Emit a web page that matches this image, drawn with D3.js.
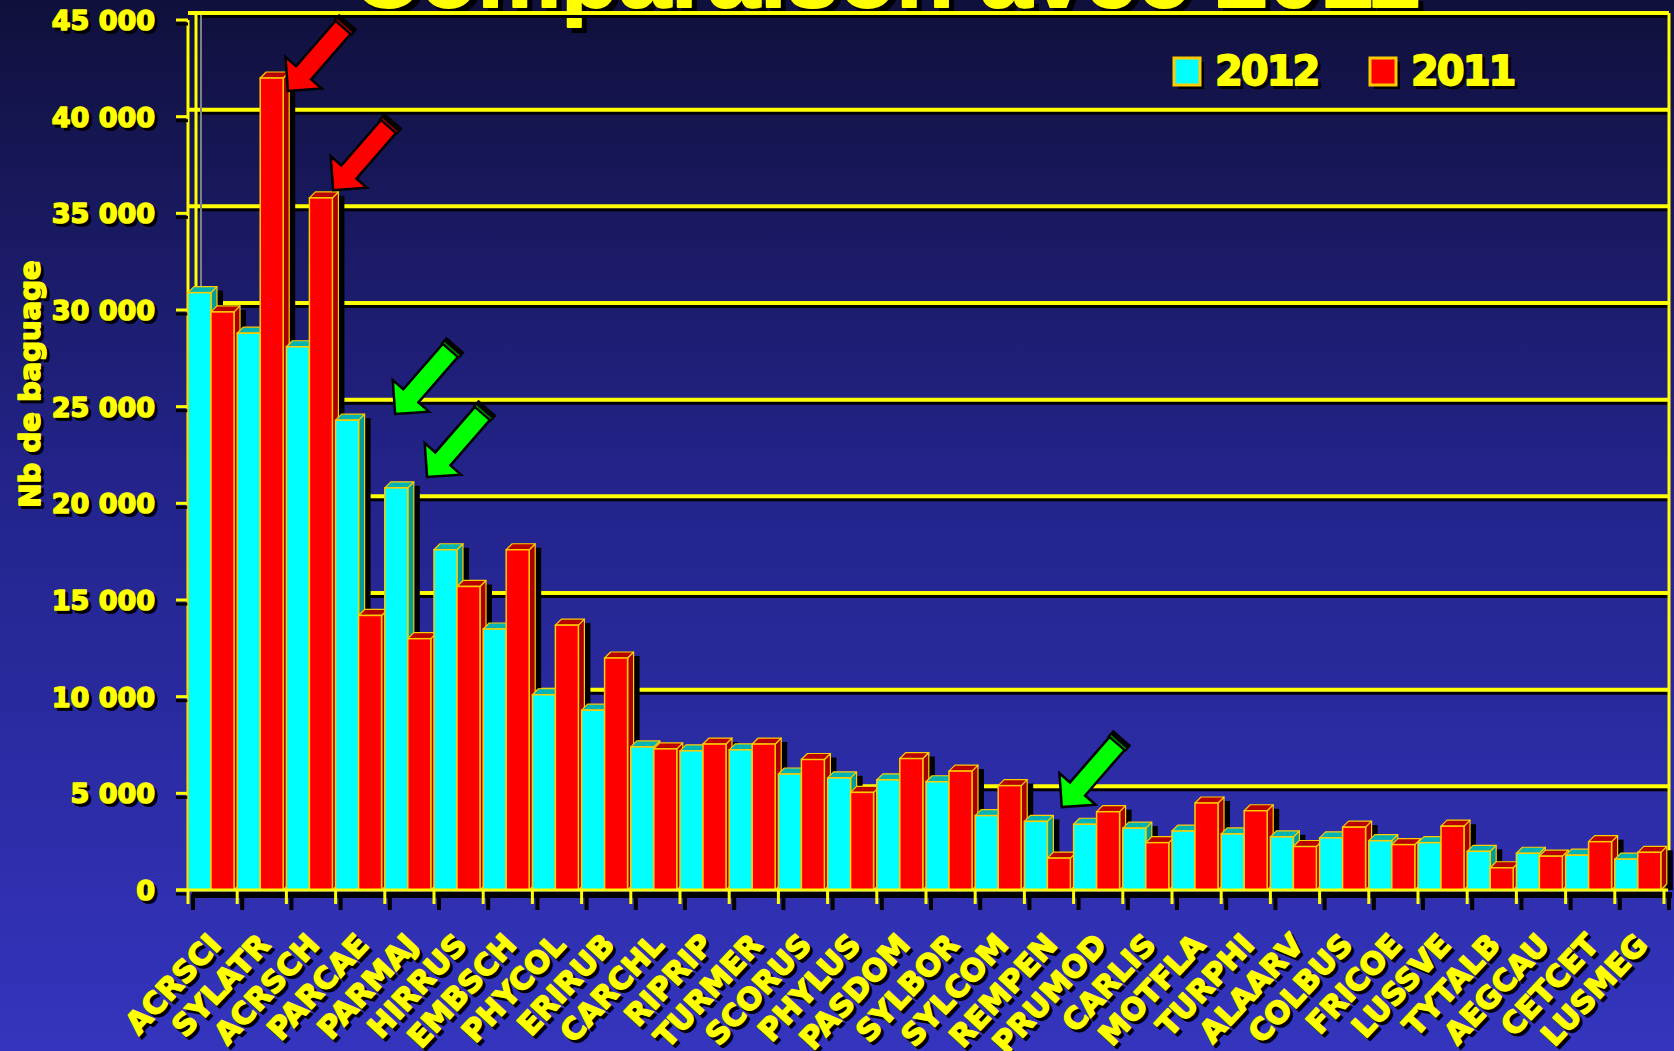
<!DOCTYPE html>
<html><head><meta charset="utf-8">
<script src="https://cdn.jsdelivr.net/npm/d3@7"></script>
<style>html,body{margin:0;padding:0;overflow:hidden;background:#1a1a60}</style>
</head><body>
<svg id="c" width="1674" height="1051"></svg>
<script>
// ---------------- data ----------------
const categories = ["ACRSCI","SYLATR","ACRSCH","PARCAE","PARMAJ","HIRRUS","EMBSCH","PHYCOL","ERIRUB","CARCHL",
  "RIPRIP","TURMER","SCORUS","PHYLUS","PASDOM","SYLBOR","SYLCOM","REMPEN","PRUMOD","CARLIS",
  "MOTFLA","TURPHI","ALAARV","COLBUS","FRICOE","LUSSVE","TYTALB","AEGCAU","CETCET","LUSMEG"];
const values2012 = [30900,28800,28100,24300,20800,17600,13500,10100,9300,7400,
  7200,7250,6000,5800,5700,5600,3850,3550,3400,3200,
  3050,2900,2750,2700,2550,2450,2000,1900,1800,1600];
const values2011 = [29900,42000,35800,14200,13000,15700,17600,13700,12000,7300,
  7550,7550,6750,5050,6800,6150,5400,1650,4050,2450,
  4500,4100,2250,3250,2350,3300,1150,1750,2500,1950];
const seriesNames = ["2012","2011"];
const yTicks = [0,5000,10000,15000,20000,25000,30000,35000,40000,45000];
const yTickLabels = ["0","5 000","10 000","15 000","20 000","25 000","30 000","35 000","40 000","45 000"];
const titleText = "Comparaison avec 2011";
const yTitleText = "Nb de baguage";
// annotation arrows: tip located at (category, fraction of band, value)
const arrowCats = ["SYLATR","ACRSCH","PARMAJ","PARMAJ","REMPEN"];
const arrowFrac = [1.03,0.95,0.21,0.86,0.76];
const arrowValues = [41330,36200,24620,21360,4290];
const arrowKinds = ["red","red","green","green","green"];

// ---------------- style ----------------
const W=1674,H=1051;
const YEL="#ffff00", EDGE="#ffcc00";
const seriesStyle = {
  "2012": {front:"#00ffff", side:"#009c9c", top:"#00b4b4"},
  "2011": {front:"#ff0000", side:"#a80000", top:"#b80000"}
};
const arrowStyle = {red:{fill:"#ff0000",cap:"#900000"}, green:{fill:"#00ff00",cap:"#008800"}};
const FONT="DejaVu Sans, Verdana, sans-serif";

const svg=d3.select("#c");
const defs=svg.append("defs");
const grad=defs.append("linearGradient").attr("id","bg").attr("x1",0).attr("y1",0).attr("x2",0).attr("y2",1);
grad.append("stop").attr("offset","0%").attr("stop-color","#10103c");
grad.append("stop").attr("offset","45%").attr("stop-color","#23238a");
grad.append("stop").attr("offset","100%").attr("stop-color","#3434be");
svg.append("rect").attr("width",W).attr("height",H).attr("fill","url(#bg)");

const x0=188, x1=1664, yBase=890, yTopPx=20;
const wall={dx:8,dy:-7};
const bar={dx:6,dy:-6};
const xRight=1669;

const x=d3.scaleBand().domain(categories).range([x0,x1]).padding(0);
const xs=d3.scaleBand().domain(seriesNames).range([0,x.bandwidth()*0.935]).padding(0);
const y=d3.scaleLinear().domain([0,45000]).range([yBase,yTopPx]);
const bw=xs.bandwidth();

// text with black drop shadow and heavy stroke
function shadowText(g, txt, attrs, off, sw){
  const s=g.append("text").text(txt).attr("fill","#000").attr("stroke","#000").attr("stroke-width",sw||0).attr("stroke-linejoin","round");
  const t=g.append("text").text(txt).attr("fill",YEL).attr("stroke",YEL).attr("stroke-width",sw||0).attr("stroke-linejoin","round");
  for(const k in attrs){ s.attr(k,attrs[k]); t.attr(k,attrs[k]); }
  s.attr("transform",`translate(${off},${off}) `+(attrs.transform||""));
  return t;
}

// ---------------- title ----------------
const gt=svg.append("g");
shadowText(gt,titleText,{x:352,y:7,"font-family":"Liberation Sans, Arial, sans-serif","font-weight":"bold","font-size":94,
  textLength:1068,lengthAdjust:"spacingAndGlyphs"},5,2);

// ---------------- walls & grid ----------------
const gw=svg.append("g");
gw.append("polygon").attr("points",[[x0,yBase],[x0+wall.dx,yBase+wall.dy],[xRight,yBase+wall.dy],[x1+3,yBase]].join(" "))
  .attr("fill","#5a5418");
yTicks.filter(v=>v>0).forEach(v=>{
  const yy=y(v)+wall.dy;
  gw.append("line").attr("x1",x0+wall.dx+2).attr("x2",xRight).attr("y1",yy+3.5).attr("y2",yy+3.5)
    .attr("stroke","#000").attr("stroke-width",3);
  gw.append("line").attr("x1",x0).attr("x2",xRight).attr("y1",yy).attr("y2",yy)
    .attr("stroke",YEL).attr("stroke-width",4);
});
gw.append("line").attr("x1",x0+wall.dx+5).attr("x2",x0+wall.dx+5).attr("y1",y(45000)+wall.dy+2).attr("y2",yBase+wall.dy)
  .attr("stroke","#808080").attr("stroke-width",2);
gw.append("line").attr("x1",x0+wall.dx).attr("x2",x0+wall.dx).attr("y1",y(45000)+wall.dy).attr("y2",yBase+wall.dy)
  .attr("stroke",YEL).attr("stroke-width",3);
gw.append("line").attr("x1",xRight).attr("x2",xRight).attr("y1",y(45000)+wall.dy).attr("y2",yBase+wall.dy)
  .attr("stroke",YEL).attr("stroke-width",3);
gw.append("line").attr("x1",x0).attr("x2",x0).attr("y1",y(45000)).attr("y2",yBase)
  .attr("stroke",YEL).attr("stroke-width",3);
yTicks.forEach(v=>{
  gw.append("line").attr("x1",x0-12).attr("x2",x0).attr("y1",y(v)+4).attr("y2",y(v)+4).attr("stroke","#000").attr("stroke-width",3);
  gw.append("line").attr("x1",x0-12).attr("x2",x0).attr("y1",y(v)).attr("y2",y(v)).attr("stroke",YEL).attr("stroke-width",3);
});

// ---------------- bars ----------------
const rows=categories.map((c,i)=>({cat:c,vals:[values2012[i],values2011[i]]}));
const gs=svg.append("g"), gb=svg.append("g");
rows.forEach(r=>{
  seriesNames.forEach((s,j)=>{
    const xb=x(r.cat)+xs(s), yv=y(r.vals[j]);
    gs.append("rect").attr("x",xb+bw+bar.dx-1).attr("y",yv+bar.dy+4).attr("width",7)
      .attr("height",Math.max(0,yBase-(yv+bar.dy+4))).attr("fill","#000");
  });
});
rows.forEach(r=>{
  seriesNames.forEach((s,j)=>{
    const st=seriesStyle[s];
    const xb=x(r.cat)+xs(s), xr=xb+bw, yv=y(r.vals[j]);
    gb.append("polygon").attr("points",[[xr,yv],[xr+bar.dx,yv+bar.dy],[xr+bar.dx,yBase+bar.dy],[xr,yBase]].join(" "))
      .attr("fill",st.side).attr("stroke",EDGE).attr("stroke-width",1.2).attr("stroke-linejoin","round");
    gb.append("polygon").attr("points",[[xb,yv],[xb+bar.dx,yv+bar.dy],[xr+bar.dx,yv+bar.dy],[xr,yv]].join(" "))
      .attr("fill",st.top).attr("stroke",EDGE).attr("stroke-width",1.2).attr("stroke-linejoin","round");
    gb.append("rect").attr("x",xb).attr("y",yv).attr("width",bw).attr("height",yBase-yv)
      .attr("fill",st.front).attr("stroke",EDGE).attr("stroke-width",1.5);
  });
});

// ---------------- base axis ----------------
const ga=svg.append("g");
ga.append("rect").attr("x",x0+4).attr("y",yBase+2).attr("width",x1-x0+4).attr("height",6).attr("fill","#000");
ga.append("line").attr("x1",x0-12).attr("x2",x1+4).attr("y1",yBase).attr("y2",yBase).attr("stroke",YEL).attr("stroke-width",3);
const bounds=categories.map(c=>x(c)).concat([x1]);
bounds.forEach(b=>{
  ga.append("line").attr("x1",b+5).attr("x2",b+5).attr("y1",yBase+4).attr("y2",yBase+20).attr("stroke","#000").attr("stroke-width",4);
  ga.append("line").attr("x1",b).attr("x2",b).attr("y1",yBase).attr("y2",yBase+14).attr("stroke",YEL).attr("stroke-width",3);
});

// ---------------- labels ----------------
const gl=svg.append("g");
yTicks.forEach((v,i)=>{
  shadowText(gl,yTickLabels[i],{x:155,y:y(v)+10,"text-anchor":"end","font-family":FONT,"font-weight":"bold","font-size":27},3,1.6);
});
categories.forEach(c=>{
  const cx=x(c)+x.bandwidth()/2+10, cy=946;
  shadowText(gl,c,{x:0,y:0,"text-anchor":"end","font-family":FONT,"font-weight":"bold","font-size":30,
    transform:`translate(${cx},${cy}) rotate(-47)`},3,1.6);
});
shadowText(gl,yTitleText,{x:0,y:0,"text-anchor":"middle","font-family":FONT,"font-weight":"bold","font-size":29,
  transform:"translate(40,384) rotate(-90)"},3,1.6);

// ---------------- legend ----------------
const gleg=svg.append("g");
const legX=[1174,1370];
seriesNames.forEach((s,j)=>{
  const lx=legX[j];
  gleg.append("rect").attr("x",lx+4).attr("y",62).attr("width",26).attr("height",27).attr("fill","#000");
  gleg.append("rect").attr("x",lx).attr("y",58).attr("width",26).attr("height",27)
    .attr("fill",seriesStyle[s].front).attr("stroke",EDGE).attr("stroke-width",3);
  shadowText(gleg,s,{x:lx+41,y:85,"font-family":FONT,"font-weight":"bold","font-size":40,"letter-spacing":-2},3,1.8);
});

// ---------------- arrows ----------------
const ga2=svg.append("g");
const L=90,HL=24,HW=48,SW=20,ang=-49;
arrowCats.forEach((c,i)=>{
  const tx=x(c)+arrowFrac[i]*x.bandwidth(), ty=y(arrowValues[i]);
  const st=arrowStyle[arrowKinds[i]];
  const g=ga2.append("g").attr("transform",`translate(${tx},${ty}) rotate(${ang})`);
  const pts=[[0,0],[HL,-HW/2],[HL,-SW/2],[L,-SW/2],[L,SW/2],[HL,SW/2],[HL,HW/2]];
  g.append("polygon").attr("points",pts.join(" ")).attr("fill",st.fill).attr("stroke","#000").attr("stroke-width",2.5).attr("stroke-linejoin","miter");
  g.append("rect").attr("x",L-7).attr("y",-SW/2-2).attr("width",9).attr("height",SW+4).attr("fill","#000");
  g.append("line").attr("x1",L-4).attr("x2",L-4).attr("y1",-SW/2).attr("y2",SW/2).attr("stroke",st.cap).attr("stroke-width",1.5);
});
</script>
</body></html>
